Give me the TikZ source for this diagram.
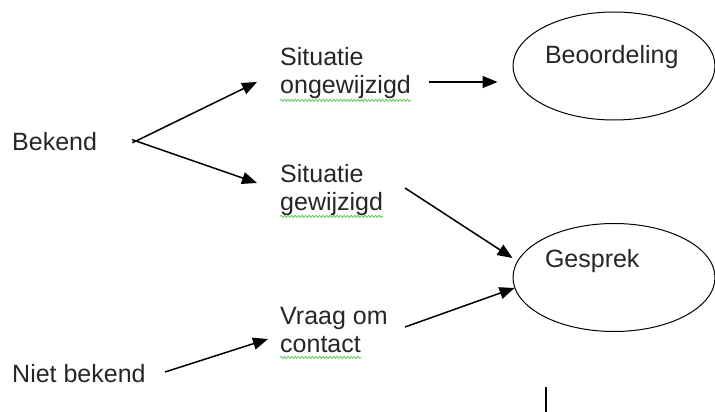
\documentclass[tikz,border=0pt]{standalone}
\usepackage{fontspec}
\setmainfont{Liberation Sans}
\usetikzlibrary{arrows.meta,shapes.geometric,calc,decorations.pathmorphing}
\newcommand{\mytwolines}[2]{\vtop{\hbox{#1}\hbox{#2}}}
\definecolor{spellgreen}{RGB}{95,200,95}
\begin{document}
\begin{tikzpicture}[x=1pt,y=-1pt,
  every node/.style={font=\fontsize{25}{28}\selectfont, inner sep=0pt, text=black!85},
  lbl/.style={anchor=base west},
  oval/.style={ellipse, draw, line width=1pt, minimum width=202pt, minimum height=108pt,
               text width=138pt, align=left, text height=18pt},
  arr/.style={line width=1.5pt, -{Triangle[length=15pt,width=12pt]}},
  squig/.style={spellgreen, line width=0.8pt, decorate,
                decoration={snake, amplitude=1.1pt, segment length=3.5pt}}]
\useasboundingbox (0,0) rectangle (715,412);
\fill[white] (0,0) rectangle (715,412);

\node[lbl] (bekend) at (12,150) {Bekend};
\node[lbl] (niet) at (12,382) {Niet bekend};
\node[lbl] (sit1) at (280,66) {\mytwolines{Situatie}{ongewijzigd}};
\node[lbl] (sit2) at (280,182) {\mytwolines{Situatie}{gewijzigd}};
\node[lbl] (vraag) at (280,324) {\mytwolines{Vraag om}{contact}};
\node[oval, text depth=22pt] (beo) at (614,66) {Beoordeling};
\node[oval, text depth=38pt] (ges) at (614,277.5) {Gesprek};

% spell-check underlines
\draw[squig] ($(sit1.south west)+(0,1)$) -- ($(sit1.south east)+(0,1)$);
\draw[squig] ($(sit2.south west)+(0,1)$) -- ($(sit2.south east)+(0,1)$);
\draw[squig] ($(vraag.south west)+(0,5)$) -- ++(81,0);

% connectors
\draw[arr] ($(bekend.base west)+(120.4,-7.2)$) -- ($(sit1.base west)+(-23,16)$);
\draw[arr] ($(bekend.base west)+(120.2,-10.3)$) -- ($(sit2.base west)+(-23,1)$);
\draw[arr] ($(sit1.base west)+(149,16)$) -- ($(beo.west)+(-15,16)$);
\draw[arr] ($(sit2.base west)+(125,6)$) -- ($(ges.west)+(0,-19.5)$);
\draw[arr] ($(vraag.base west)+(125,3)$) -- ($(ges.west)+(2,10.5)$);
\draw[arr] ($(niet.base west)+(153,-10)$) -- ($(vraag.base west)+(-12,15)$);

% text cursor
\draw[line width=2.5pt] (546,387) -- (546,412);
\end{tikzpicture}
\end{document}
